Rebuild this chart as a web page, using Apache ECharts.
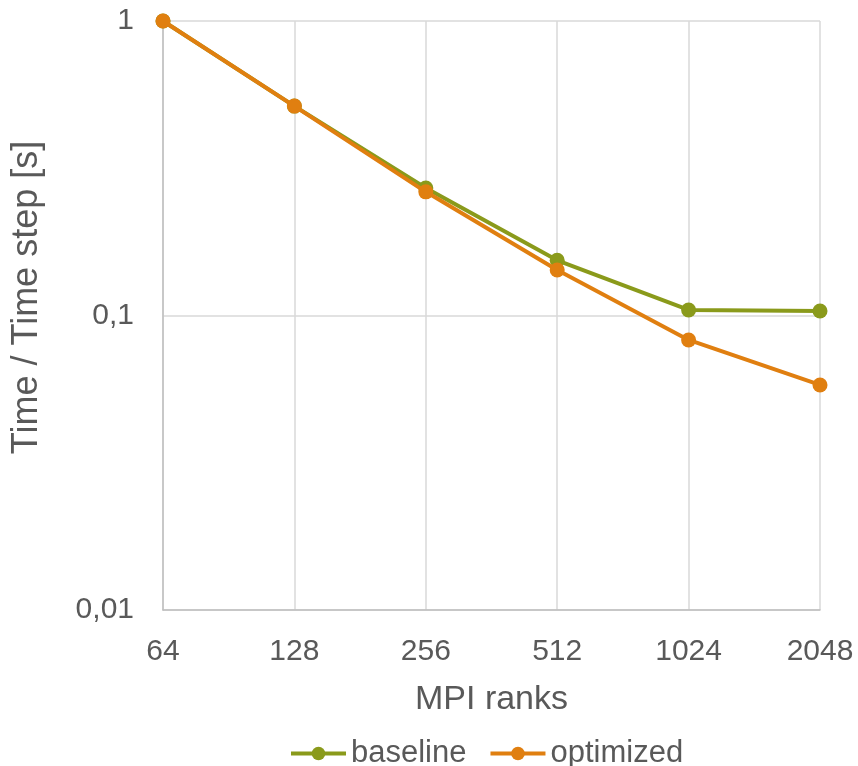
<!DOCTYPE html>
<html>
<head>
<meta charset="utf-8">
<script src="https://cdn.jsdelivr.net/npm/echarts@6/dist/echarts.min.js"></script>
<style>
  html, body { margin: 0; padding: 0; background: #fff; }
  #chart { width: 858px; height: 766px; }
</style>
</head>
<body>
<div id="chart"></div>
<script>
  // MPI ranks on x, time per step (log scale) on y
  var ranks = ['64', '128', '256', '512', '1024', '2048'];
  var baseline = [1, 0.514, 0.271, 0.154, 0.1044, 0.1036];
  var optimized = [1, 0.514, 0.263, 0.1427, 0.0826, 0.0581];

  var textColor = '#595959';
  var font = '"Liberation Sans", Arial, sans-serif';

  var myChart = echarts.init(document.getElementById('chart'));
  myChart.setOption({
    animation: false,
    color: ['#8A9A1B', '#E07F10'],
    textStyle: { fontFamily: font },
    grid: { left: 163, right: 38, top: 21, bottom: 156, outerBoundsMode: 'none', containLabel: false },
    legend: {
      top: 733,
      left: 284,
      itemWidth: 55,
      itemHeight: 17,
      itemGap: 22,
      lineStyle: { width: 4 },
      textStyle: { color: textColor, fontSize: 31, fontFamily: font },
      data: ['baseline', 'optimized']
    },
    xAxis: {
      type: 'category',
      boundaryGap: false,
      data: ranks,
      name: 'MPI ranks',
      nameLocation: 'middle',
      nameGap: 73,
      nameTextStyle: { color: textColor, fontSize: 34, fontFamily: font },
      axisLine: { lineStyle: { color: '#BFBFBF', width: 1.5 } },
      axisTick: { show: false },
      axisLabel: { color: textColor, fontSize: 30, margin: 27, fontFamily: font },
      splitLine: { show: true, lineStyle: { color: '#D9D9D9', width: 1.5 } }
    },
    yAxis: {
      type: 'log',
      logBase: 10,
      min: 0.01,
      max: 1,
      name: 'Time / Time step [s]',
      nameLocation: 'middle',
      nameGap: 118,
      nameTextStyle: { color: textColor, fontSize: 36, fontFamily: font, padding: [0, 0, 0, 36] },
      axisLine: { show: true, lineStyle: { color: '#BFBFBF', width: 1.5 } },
      axisTick: { show: false },
      axisLabel: {
        color: textColor,
        fontSize: 30,
        margin: 29,
        fontFamily: font,
        formatter: function (v) {
          return String(+v.toPrecision(6)).replace('.', ',');
        }
      },
      splitLine: { show: true, lineStyle: { color: '#D9D9D9', width: 1.5 } },
      minorSplitLine: { show: false }
    },
    series: [
      {
        name: 'baseline',
        type: 'line',
        data: baseline,
        symbol: 'circle',
        symbolSize: 15,
        lineStyle: { width: 4 },
        z: 2
      },
      {
        name: 'optimized',
        type: 'line',
        data: optimized,
        symbol: 'circle',
        symbolSize: 15,
        lineStyle: { width: 4 },
        z: 3
      }
    ]
  });
</script>
</body>
</html>
